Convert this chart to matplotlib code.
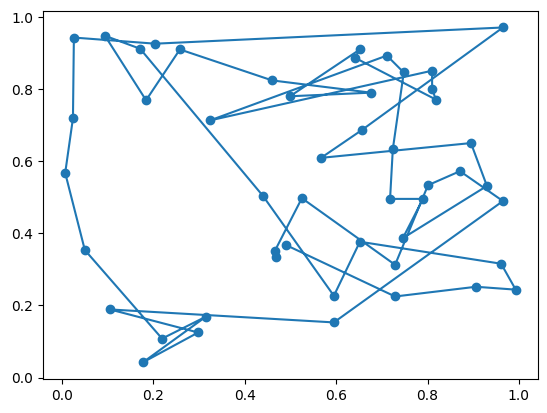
import matplotlib
matplotlib.use('Agg')
import matplotlib.pyplot as plt

# points in visiting order
xs = [0.490, 0.729, 0.906, 0.993, 0.961, 0.652, 0.595, 0.440, 0.171, 0.094,
      0.184, 0.258, 0.460, 0.676, 0.499, 0.652, 0.641, 0.818, 0.810, 0.810,
      0.324, 0.711, 0.748, 0.724, 0.718, 0.790, 0.746, 0.930, 0.895, 0.567,
      0.656, 0.965, 0.204, 0.026, 0.024, 0.007, 0.050, 0.219, 0.315, 0.177,
      0.298, 0.105, 0.595, 0.965, 0.871, 0.801, 0.729, 0.525, 0.466, 0.468]
ys = [0.368, 0.225, 0.252, 0.244, 0.316, 0.377, 0.227, 0.504, 0.913, 0.949,
      0.770, 0.911, 0.825, 0.791, 0.781, 0.911, 0.888, 0.772, 0.802, 0.852,
      0.714, 0.894, 0.847, 0.634, 0.496, 0.496, 0.387, 0.532, 0.651, 0.610,
      0.687, 0.972, 0.927, 0.944, 0.720, 0.568, 0.354, 0.108, 0.169, 0.042,
      0.125, 0.189, 0.153, 0.490, 0.573, 0.534, 0.313, 0.498, 0.352, 0.335]

fig = plt.figure(figsize=(5.47, 4.13), dpi=100)
ax = fig.add_axes([0.078, 0.082, 0.906, 0.892])
ax.plot(xs, ys, 'o-')
fig.savefig('out.png', dpi=100)
